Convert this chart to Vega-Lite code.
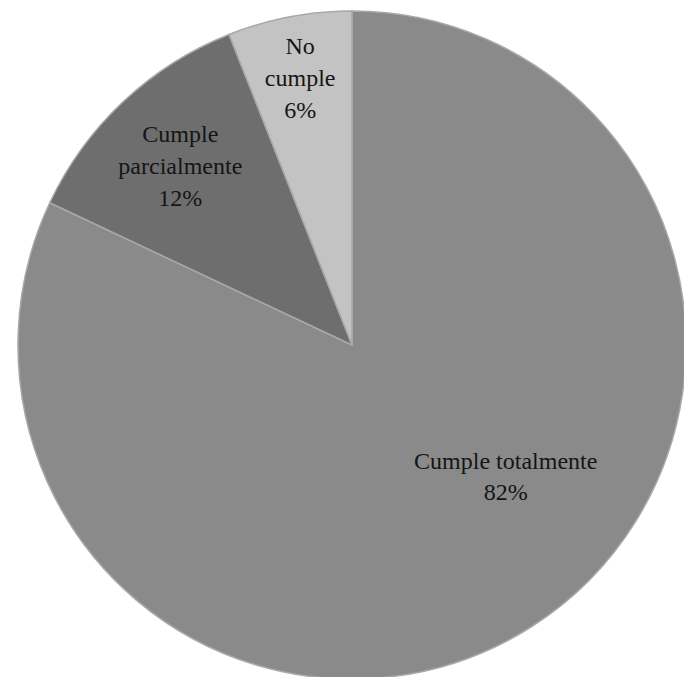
{
  "$schema": "https://vega.github.io/schema/vega-lite/v6.json",
  "autosize": "none",
  "width": 664,
  "height": 664,
  "padding": {"left": 20, "top": 13, "right": 0, "bottom": 0},
  "background": "white",
  "data": {
    "values": [
      {"category": "Cumple totalmente", "value": 82, "order": 1, "label": ["Cumple totalmente", "82%"]},
      {"category": "Cumple parcialmente", "value": 12, "order": 2, "label": ["Cumple", "parcialmente", "12%"]},
      {"category": "No cumple", "value": 6, "order": 3, "label": ["No", "cumple", "6%"]}
    ]
  },
  "encoding": {
    "theta": {"field": "value", "type": "quantitative", "stack": true},
    "order": {"field": "order", "type": "quantitative"}
  },
  "layer": [
    {
      "mark": {"type": "arc", "radius": 334, "stroke": "#a8a8a8", "strokeWidth": 1.5},
      "encoding": {
        "color": {
          "field": "category",
          "type": "nominal",
          "scale": {
            "domain": ["Cumple totalmente", "Cumple parcialmente", "No cumple"],
            "range": ["#8a8a8a", "#6e6e6e", "#c3c3c3"]
          },
          "legend": null
        }
      }
    },
    {
      "mark": {"type": "text", "radius": 193, "thetaOffset": -0.356, "font": "Liberation Serif", "fontSize": 24, "lineHeight": 31, "color": "#151515", "align": "center", "baseline": "middle"},
      "encoding": {
        "text": {"condition": {"test": "datum.category === 'Cumple totalmente'", "field": "label"}, "value": ""}
      }
    },
    {
      "mark": {"type": "text", "radius": 271, "thetaOffset": 0.068, "font": "Liberation Serif", "fontSize": 24, "lineHeight": 32, "color": "#151515", "align": "center", "baseline": "middle"},
      "encoding": {
        "text": {"condition": {"test": "datum.category === 'Cumple parcialmente'", "field": "label"}, "value": ""}
      }
    },
    {
      "mark": {"type": "text", "radius": 302, "thetaOffset": 0.016, "font": "Liberation Serif", "fontSize": 24, "lineHeight": 32, "color": "#151515", "align": "center", "baseline": "middle"},
      "encoding": {
        "text": {"condition": {"test": "datum.category === 'No cumple'", "field": "label"}, "value": ""}
      }
    }
  ],
  "config": {"view": {"stroke": null}}
}
